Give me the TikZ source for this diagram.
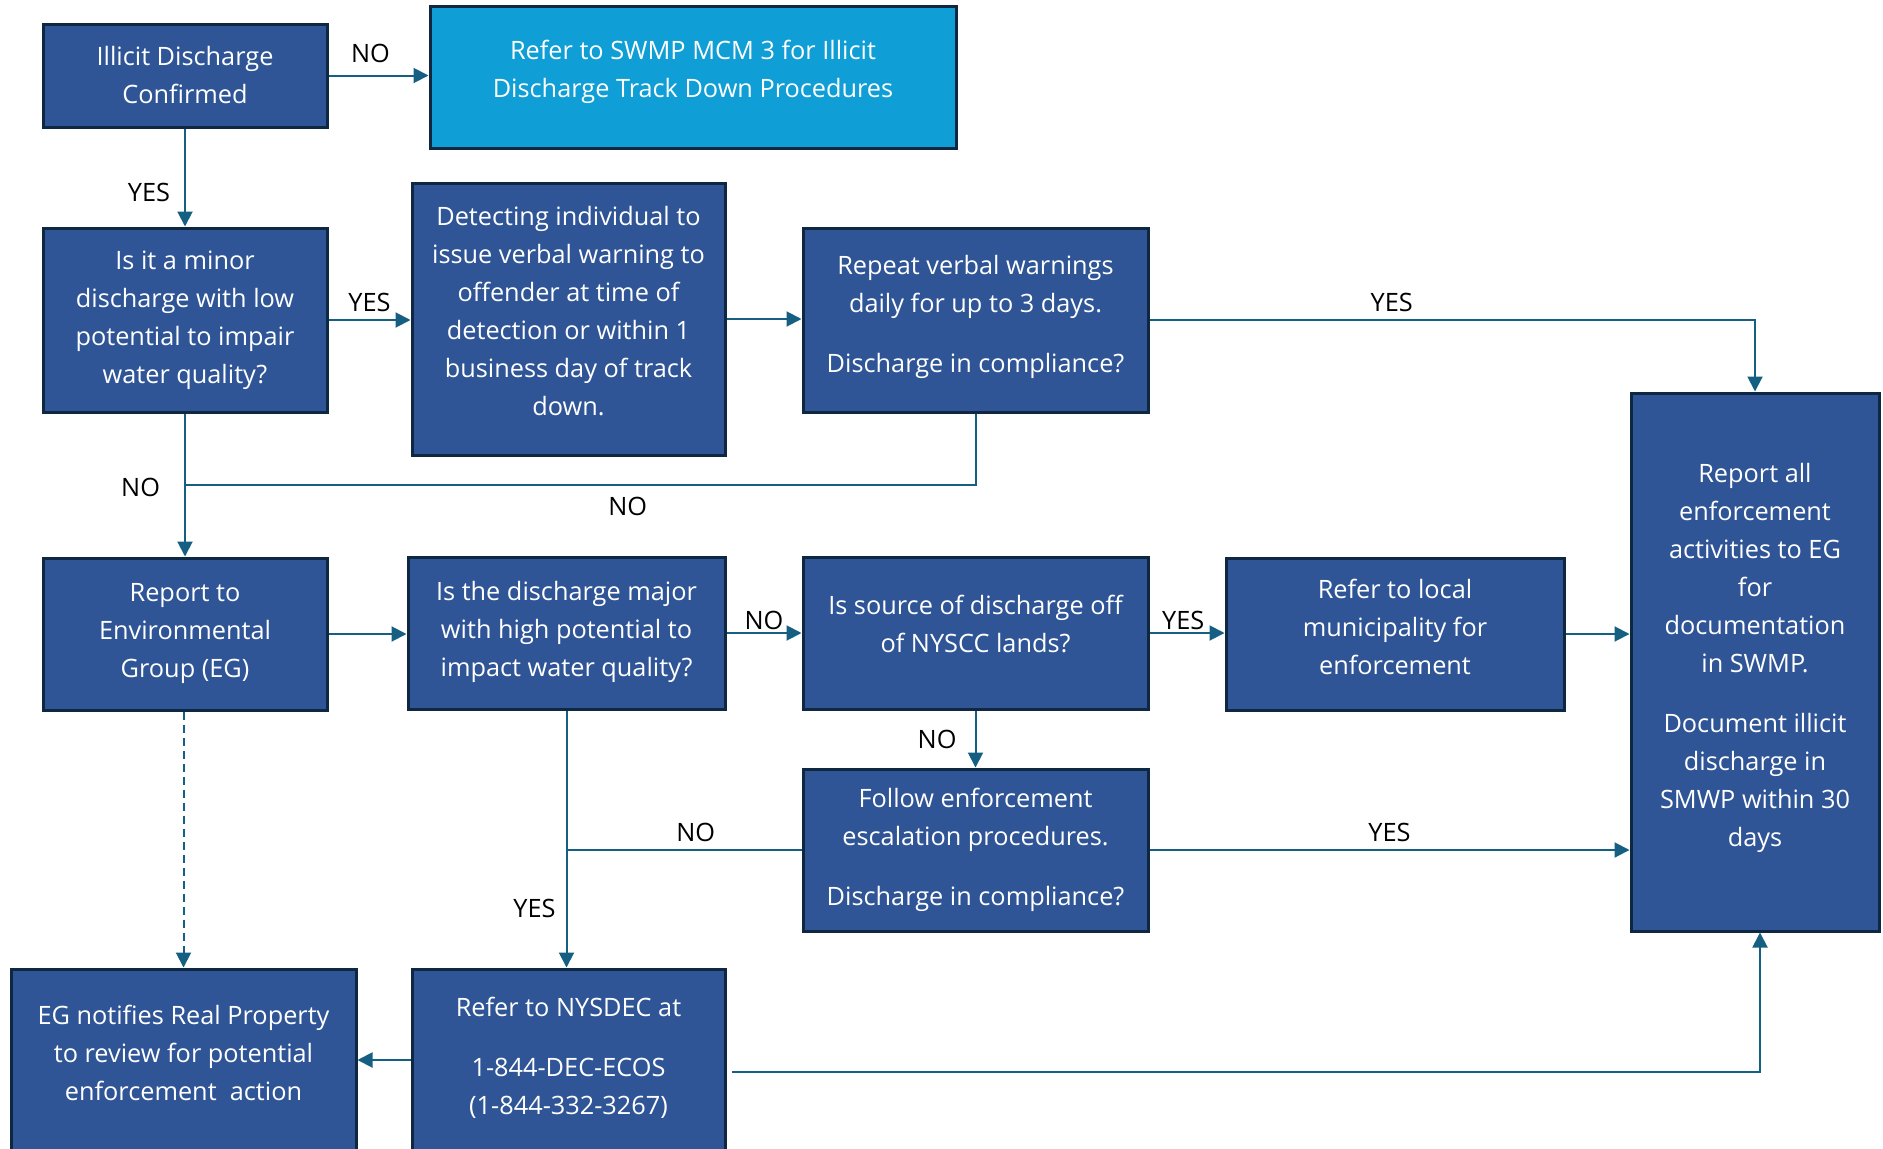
\documentclass[tikz,border=0pt]{standalone}
\usepackage{fontspec}
\setsansfont{Open Sans}
\usetikzlibrary{arrows.meta}
\definecolor{flowNavy}{HTML}{2F5597}
\definecolor{flowEdge}{HTML}{0E2841}
\definecolor{flowCyan}{HTML}{0F9ED5}
\definecolor{flowTeal}{HTML}{156082}
\tikzset{
  every picture/.style={font=\sffamily\fontsize{25.3}{38}\selectfont},
  flow box/.style={draw=flowEdge, line width=3pt, fill=flowNavy, text=white,
    align=center, inner sep=0pt},
  flow link/.style={draw=flowTeal, line width=2pt},
  flow arrow/.style={flow link, -{Triangle[length=15pt,width=15pt]}},
  flow label/.style={text=black, inner sep=7pt}
}

\begin{document}
\begin{tikzpicture}[x=1pt,y=-1pt]
  \useasboundingbox[fill=white] (0,0) rectangle (1883,1149);
  % first column
  \node[flow box, minimum width=284pt, minimum height=103pt] (idc) at (185,75.5) {Illicit Discharge\\Confirmed};
  \node[flow box, minimum width=284pt, minimum height=184pt] (minor) at (185,320) {Is it a minor\\discharge with low\\potential to impair\\water quality?};
  \node[flow box, minimum width=284pt, minimum height=152pt, text depth=8pt] (eg) at (185,634) {Report to\\Environmental\\Group (EG)};
  \node[flow box, minimum width=345pt, minimum height=182pt, text depth=14pt] (notify) at (183.5,1060) {EG notifies Real Property\\to review for potential\\enforcement\ \ action};
  % second column
  \node[flow box, fill=flowCyan, minimum width=526pt, minimum height=142pt, text depth=17pt] (swmp) at (693,77) {Refer to SWMP MCM 3 for Illicit\\Discharge Track Down Procedures};
  \node[flow box, minimum width=313pt, minimum height=272pt, text depth=17pt] (detect) at (568.5,319) {Detecting individual to\\issue verbal warning to\\offender at time of\\detection or within 1\\business day of track\\down.};
  \node[flow box, minimum width=317pt, minimum height=152pt, text depth=8pt] (major) at (566.5,633) {Is the discharge major\\with high potential to\\impact water quality?};
  \node[flow box, minimum width=313pt, minimum height=182pt, text depth=9pt] (nysdec) at (568.5,1060) {Refer to NYSDEC at\\[22pt]1-844-DEC-ECOS\\(1-844-332-3267)};
  % third column
  \node[flow box, minimum width=345pt, minimum height=184pt, text depth=12pt] (repeat) at (975.5,320) {Repeat verbal warnings\\daily for up to 3 days.\\[22pt]Discharge in compliance?};
  \node[flow box, minimum width=345pt, minimum height=152pt, text depth=19pt] (source) at (975.5,633) {Is source of discharge off\\of NYSCC lands?};
  \node[flow box, minimum width=345pt, minimum height=162pt] (follow) at (975.5,850) {Follow enforcement\\escalation procedures.\\[22pt]Discharge in compliance?};
  % right side
  \node[flow box, minimum width=338pt, minimum height=152pt, text depth=14pt] (local) at (1395,634) {Refer to local\\municipality for\\enforcement};
  \node[flow box, minimum width=248pt, minimum height=538pt, text depth=14pt] (report) at (1755,662) {Report all\\enforcement\\activities to EG\\for\\documentation\\in SWMP.\\[22pt]Document illicit\\discharge in\\SMWP within 30\\days};

  \coordinate (join1) at (185,485);

  \draw[flow arrow] (idc.east) -- (idc.east -| swmp.west) node[flow label,pos=0.42,above,inner sep=12pt] {NO};
  \draw[flow arrow] (idc.south) -- (minor.north) node[flow label,pos=0.65,left,inner sep=14pt] {YES};
  \draw[flow arrow] (minor.east) -- (minor.east -| detect.west) node[flow label,midway,above] {YES};
  \draw[flow arrow] (detect.east) -- (detect.east -| repeat.west);
  \draw[flow arrow] (repeat.east) -| (report.north) node[flow label,pos=0.2,above] {YES};
  \draw[flow arrow] (minor.south) -- (eg.north) node[flow label,pos=0.52,left,inner sep=24pt] {NO};
  \draw[flow link] (repeat.south) |- (join1) node[flow label,pos=0.72,below,inner sep=11pt] {NO};
  \draw[flow arrow] (eg.east) -- (eg.east -| major.west);
  \draw[flow arrow] (major.east) -- (major.east -| source.west) node[flow label,midway,above,inner sep=2pt] {NO};
  \draw[flow arrow] (source.east) -- (source.east -| local.west) node[flow label,pos=0.45,above,inner sep=2pt] {YES};
  \draw[flow arrow] (local.east) -- (local.east -| report.west);
  \draw[flow arrow] (source.south) -- (follow.north) node[flow label,midway,left,inner sep=18pt] {NO};
  \draw[flow arrow] (major.south) -- (major.south |- nysdec.north) node[flow label,pos=0.77,left,inner sep=10pt] {YES};
  \draw[flow link] (follow.west) -- (follow.west -| major.south) node[flow label,pos=0.45,above] {NO};
  \draw[flow arrow] (follow.east) -- (follow.east -| report.west) node[flow label,midway,above] {YES};
  \draw[flow arrow,dash pattern=on 8pt off 5pt] (notify.north |- eg.south) -- (notify.north);
  \draw[flow arrow] (nysdec.west) -- (notify.east);
  \draw[flow arrow] ([xshift=5pt,yshift=-12pt]nysdec.east) -| ([xshift=5pt]report.south);
\end{tikzpicture}
\end{document}
